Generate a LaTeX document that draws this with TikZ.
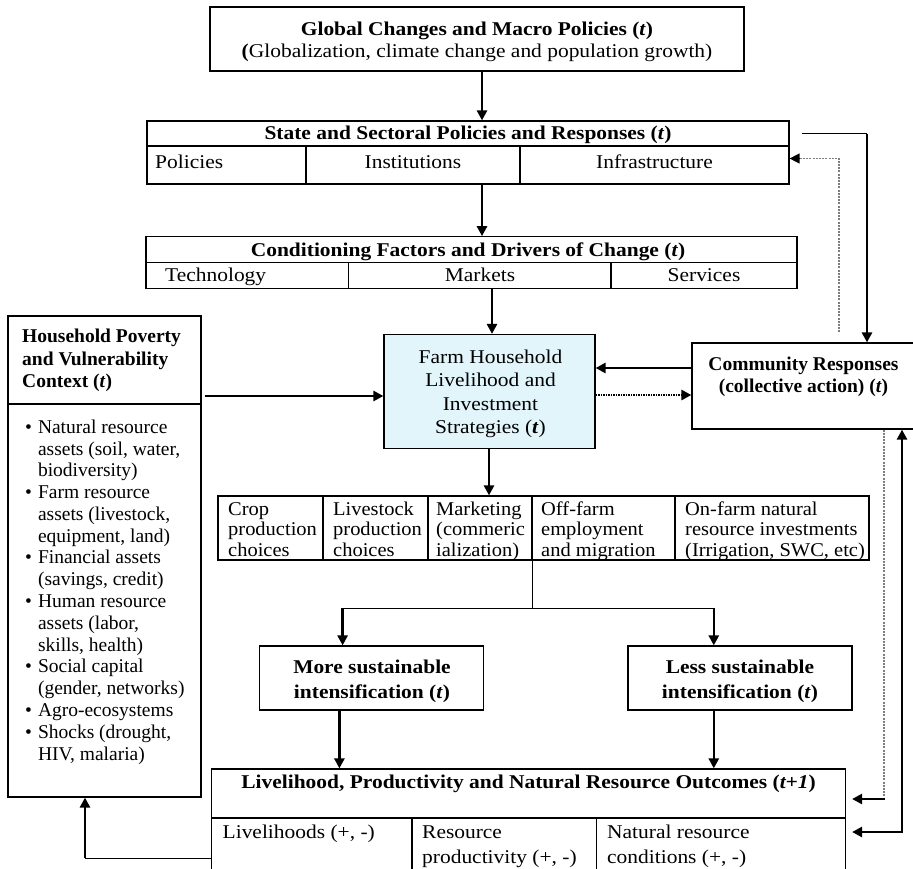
\documentclass[tikz,border=0pt]{standalone}
\usepackage{fontspec}
\setmainfont{Liberation Serif}
\usepackage{graphicx}
\usetikzlibrary{arrows.meta}
\definecolor{farmfill}{RGB}{225,245,251}
\definecolor{dotgray}{RGB}{125,125,125}
\newcommand\TX[3][1]{\scalebox{#1}[1]{\begin{tabular}[t]{@{}#2@{}}#3\end{tabular}}}
\begin{document}
\begin{tikzpicture}[x=1pt,y=-1pt,
  box/.style={draw, line width=1.2pt, inner sep=0pt},
  boxline/.style={line width=1.2pt},
  txt/.style={inner sep=0pt, anchor=base, font=\fontsize{19.5}{22}\selectfont},
  arr/.style={line width=2.6pt, -{Triangle[length=10pt,width=10pt]}},
  arrboth/.style={line width=2.6pt, {Triangle[length=10pt,width=10pt]}-{Triangle[length=10pt,width=10pt]}},
  thinline/.style={line width=1pt},
  gdot/.style={line width=1.3pt, dotgray, dash pattern=on 2pt off 1.2pt},
  bdot/.style={line width=2.6pt, dash pattern=on 1.5pt off 1pt, -{Triangle[length=10pt,width=10pt]}}]
\useasboundingbox (0,0) rectangle (913,868);

% ---------- boxes ----------
\node[box, minimum width=534pt, minimum height=64pt] (glob) at (477,39) {};
\node[box, minimum width=642pt, minimum height=63pt] (state) at (468,152.5) {};
\node[box, minimum width=651pt, minimum height=51.5pt] (cond) at (471.5,262.5) {};
\node[box, minimum width=193pt, minimum height=481pt] (hh) at (104.5,556.5) {};
\node[box, fill=farmfill, minimum width=211pt, minimum height=114pt] (farm) at (489.5,391.5) {};
\node[box, minimum width=228pt, minimum height=86pt] (com) at (806,386) {};
\node[box, minimum width=651pt, minimum height=64pt] (choices) at (543.5,528) {};
\node[box, minimum width=224pt, minimum height=64pt] (more) at (371.5,678) {};
\node[box, minimum width=224pt, minimum height=64pt] (less) at (740,678) {};
\node[box, minimum width=634pt, minimum height=106pt] (out) at (528.5,822) {};

% inner rules
\coordinate (sd) at (0,146);
\draw[boxline] (state.west |- sd) -- (state.east |- sd);
\draw[boxline] (306,146) -- (306,184);
\draw[boxline] (520,146) -- (520,184);
\coordinate (cd) at (0,262.5);
\draw[boxline] (cond.west |- cd) -- (cond.east |- cd);
\draw[boxline] (348.5,262.5) -- (348.5,288.2);
\draw[boxline] (611,262.5) -- (611,288.2);
\coordinate (hd) at (0,404);
\draw[boxline] (hh.west |- hd) -- (hh.east |- hd);
\foreach \cx in {323,428,532,675} \draw[boxline] (\cx,496) -- (\cx,560);
\coordinate (od) at (0,818);
\draw[boxline] (out.west |- od) -- (out.east |- od);
\draw[boxline] (412,818) -- (412,875);
\draw[boxline] (596.5,818) -- (596.5,875);

% ---------- texts ----------
\node[txt] (tg) at (477,35) {\TX[1.1]{c}{\textbf{Global Changes and Macro Policies (\textit{t})}\\\textbf{(}Globalization, climate change and population growth)}};
\node[txt] (ts) at (468,139.5) {\TX[1.1]{c}{\textbf{State and Sectoral Policies and Responses (\textit{t})}}};
\node[txt, anchor=base west] (ts1) at (155,168) {\TX[1.1]{l}{Policies}};
\node[txt] (ts2) at (413,168) {\TX[1.1]{c}{Institutions}};
\node[txt] (ts3) at (654.5,168) {\TX[1.1]{c}{Infrastructure}};
\node[txt] (tc) at (468,256.5) {\TX[1.1]{c}{\textbf{Conditioning Factors and Drivers of Change (\textit{t})}}};
\node[txt, anchor=base west] (tc1) at (165,281.5) {\TX[1.1]{l}{Technology}};
\node[txt] (tc2) at (480,281.5) {\TX[1.1]{c}{Markets}};
\node[txt] (tc3) at (704,281.5) {\TX[1.1]{c}{Services}};
\node[txt, anchor=base west, font=\fontsize{19.5}{22.3}\selectfont] (th) at (22,342.7) {\TX{l}{\textbf{Household Poverty}\\\textbf{and Vulnerability}\\\textbf{Context (\textit{t})}}};
\node[txt, anchor=base west, font=\fontsize{19.5}{21.78}\selectfont] (tb) at (25,433.3) {\TX{l@{\hspace{6pt}}l}{%
\textbullet & Natural resource\\ & assets (soil, water,\\ & biodiversity)\\
\textbullet & Farm resource\\ & assets (livestock,\\ & equipment, land)\\
\textbullet & Financial assets\\ & (savings, credit)\\
\textbullet & Human resource\\ & assets (labor,\\ & skills, health)\\
\textbullet & Social capital\\ & (gender, networks)\\
\textbullet & Agro-ecosystems\\
\textbullet & Shocks (drought,\\ & HIV, malaria)}};
\node[txt, font=\fontsize{19.5}{23.5}\selectfont] (tf) at (490.5,363) {\TX[1.1]{c}{Farm Household\\Livelihood and\\Investment\\Strategies (\textbf{\textit{t}})}};
\node[txt] (tcm) at (803.5,370.5) {\TX{c}{\textbf{Community Responses}\\\textbf{(collective action) (\textit{t})}}};
\node[txt, anchor=base west, font=\fontsize{19.5}{20.5}\selectfont] (tk1) at (228,515) {\TX[1.05]{l}{Crop\\production\\choices}};
\node[txt, anchor=base west, font=\fontsize{19.5}{20.5}\selectfont] (tk2) at (333,515) {\TX[1.05]{l}{Livestock\\production\\choices}};
\node[txt, anchor=base west, font=\fontsize{19.5}{20.5}\selectfont] (tk3) at (436,515) {\TX[1.05]{l}{Marketing\\(commeric\\ialization)}};
\node[txt, anchor=base west, font=\fontsize{19.5}{20.5}\selectfont] (tk4) at (541,515) {\TX[1.05]{l}{Off-farm\\employment\\and migration}};
\node[txt, anchor=base west, font=\fontsize{19.5}{20.5}\selectfont] (tk5) at (685,515) {\TX[1.05]{l}{On-farm natural\\resource investments\\(Irrigation, SWC, etc)}};
\node[txt, font=\fontsize{19.5}{25}\selectfont] (tm) at (372,673.4) {\TX[1.1]{c}{\textbf{More sustainable}\\\textbf{intensification (\textit{t})}}};
\node[txt, font=\fontsize{19.5}{25}\selectfont] (tl) at (740,673.4) {\TX[1.1]{c}{\textbf{Less sustainable}\\\textbf{intensification (\textit{t})}}};
\node[txt] (to) at (528.6,788.6) {\TX[1.1]{c}{\textbf{Livelihood, Productivity and Natural Resource Outcomes (\textit{t+1})}}};
\node[txt, anchor=base west, font=\fontsize{19.5}{25}\selectfont] (to1) at (222.5,838.6) {\TX[1.1]{l}{Livelihoods (+, -)}};
\node[txt, anchor=base west, font=\fontsize{19.5}{25}\selectfont] (to2) at (422,838.6) {\TX[1.1]{l}{Resource\\productivity (+, -)}};
\node[txt, anchor=base west, font=\fontsize{19.5}{25}\selectfont] (to3) at (607,838.6) {\TX[1.1]{l}{Natural resource\\conditions (+, -)}};

% ---------- connectors ----------
\coordinate (xA) at (482,0);
\draw[arr] (xA |- glob.south) -- (xA |- state.north);
\draw[arr] (xA |- state.south) -- (xA |- cond.north);
\coordinate (xB) at (492,0);
\draw[arr] (xB |- cond.south) -- (xB |- farm.north);
\coordinate (yH) at (0,396);
\draw[arr, shorten <=3pt] (hh.east |- yH) -- (farm.west |- yH);
\coordinate (yC) at (0,368);
\draw[arr] (com.west |- yC) -- (farm.east |- yC);
\coordinate (yD) at (0,395);
\draw[bdot] (farm.east |- yD) -- (com.west |- yD);
\coordinate (xF) at (489,0);
\draw[arr] (xF |- farm.south) -- (xF |- choices.north);
\coordinate (xT) at (532,0);
\coordinate (br) at (532,608.4);
\draw[thinline] (xT |- choices.south) -- (br);
\coordinate (brL) at (342.6,608.4);
\coordinate (brR) at (713.8,608.4);
\draw[thinline] (brL) -- (brR);
\draw[arr] (brL) -- (brL |- more.north);
\draw[arr] (brR) -- (brR |- less.north);
\coordinate (xM) at (339.4,0);
\draw[arr] (xM |- more.south) -- (xM |- out.north);
\draw[arr] (brR |- less.south) -- (brR |- out.north);
\coordinate (ob) at (85,858);
\draw[thinline] (out.west |- ob) -- (ob);
\draw[arr] (ob) -- (ob |- hh.south);
\coordinate (sc1) at (802,133.3);
\coordinate (sc2) at (867,133.3);
\draw[thinline] (sc1) -- (sc2);
\draw[arr] ([yshift=-0.5pt]sc2) -- (sc2 |- com.north);
\coordinate (d1) at (839,158.5);
\draw[gdot, shorten <=10pt] (d1 |- com.north) -- (d1) -- ([xshift=10pt]state.east |- d1);
\draw[-{Triangle[length=10pt,width=10pt]}, line width=1.3pt] ([xshift=10pt]state.east |- d1) -- (state.east |- d1);
\coordinate (d2) at (884,799);
\draw[gdot] (d2 |- com.south) -- (d2);
\draw[arr, shorten >=6pt] ([xshift=1.3pt]d2) -- (out.east |- d2);
\coordinate (d3) at (902,832);
\draw[arrboth, shorten <=6pt] (out.east |- d3) -- (d3) -- (d3 |- com.south);
\end{tikzpicture}
\end{document}
